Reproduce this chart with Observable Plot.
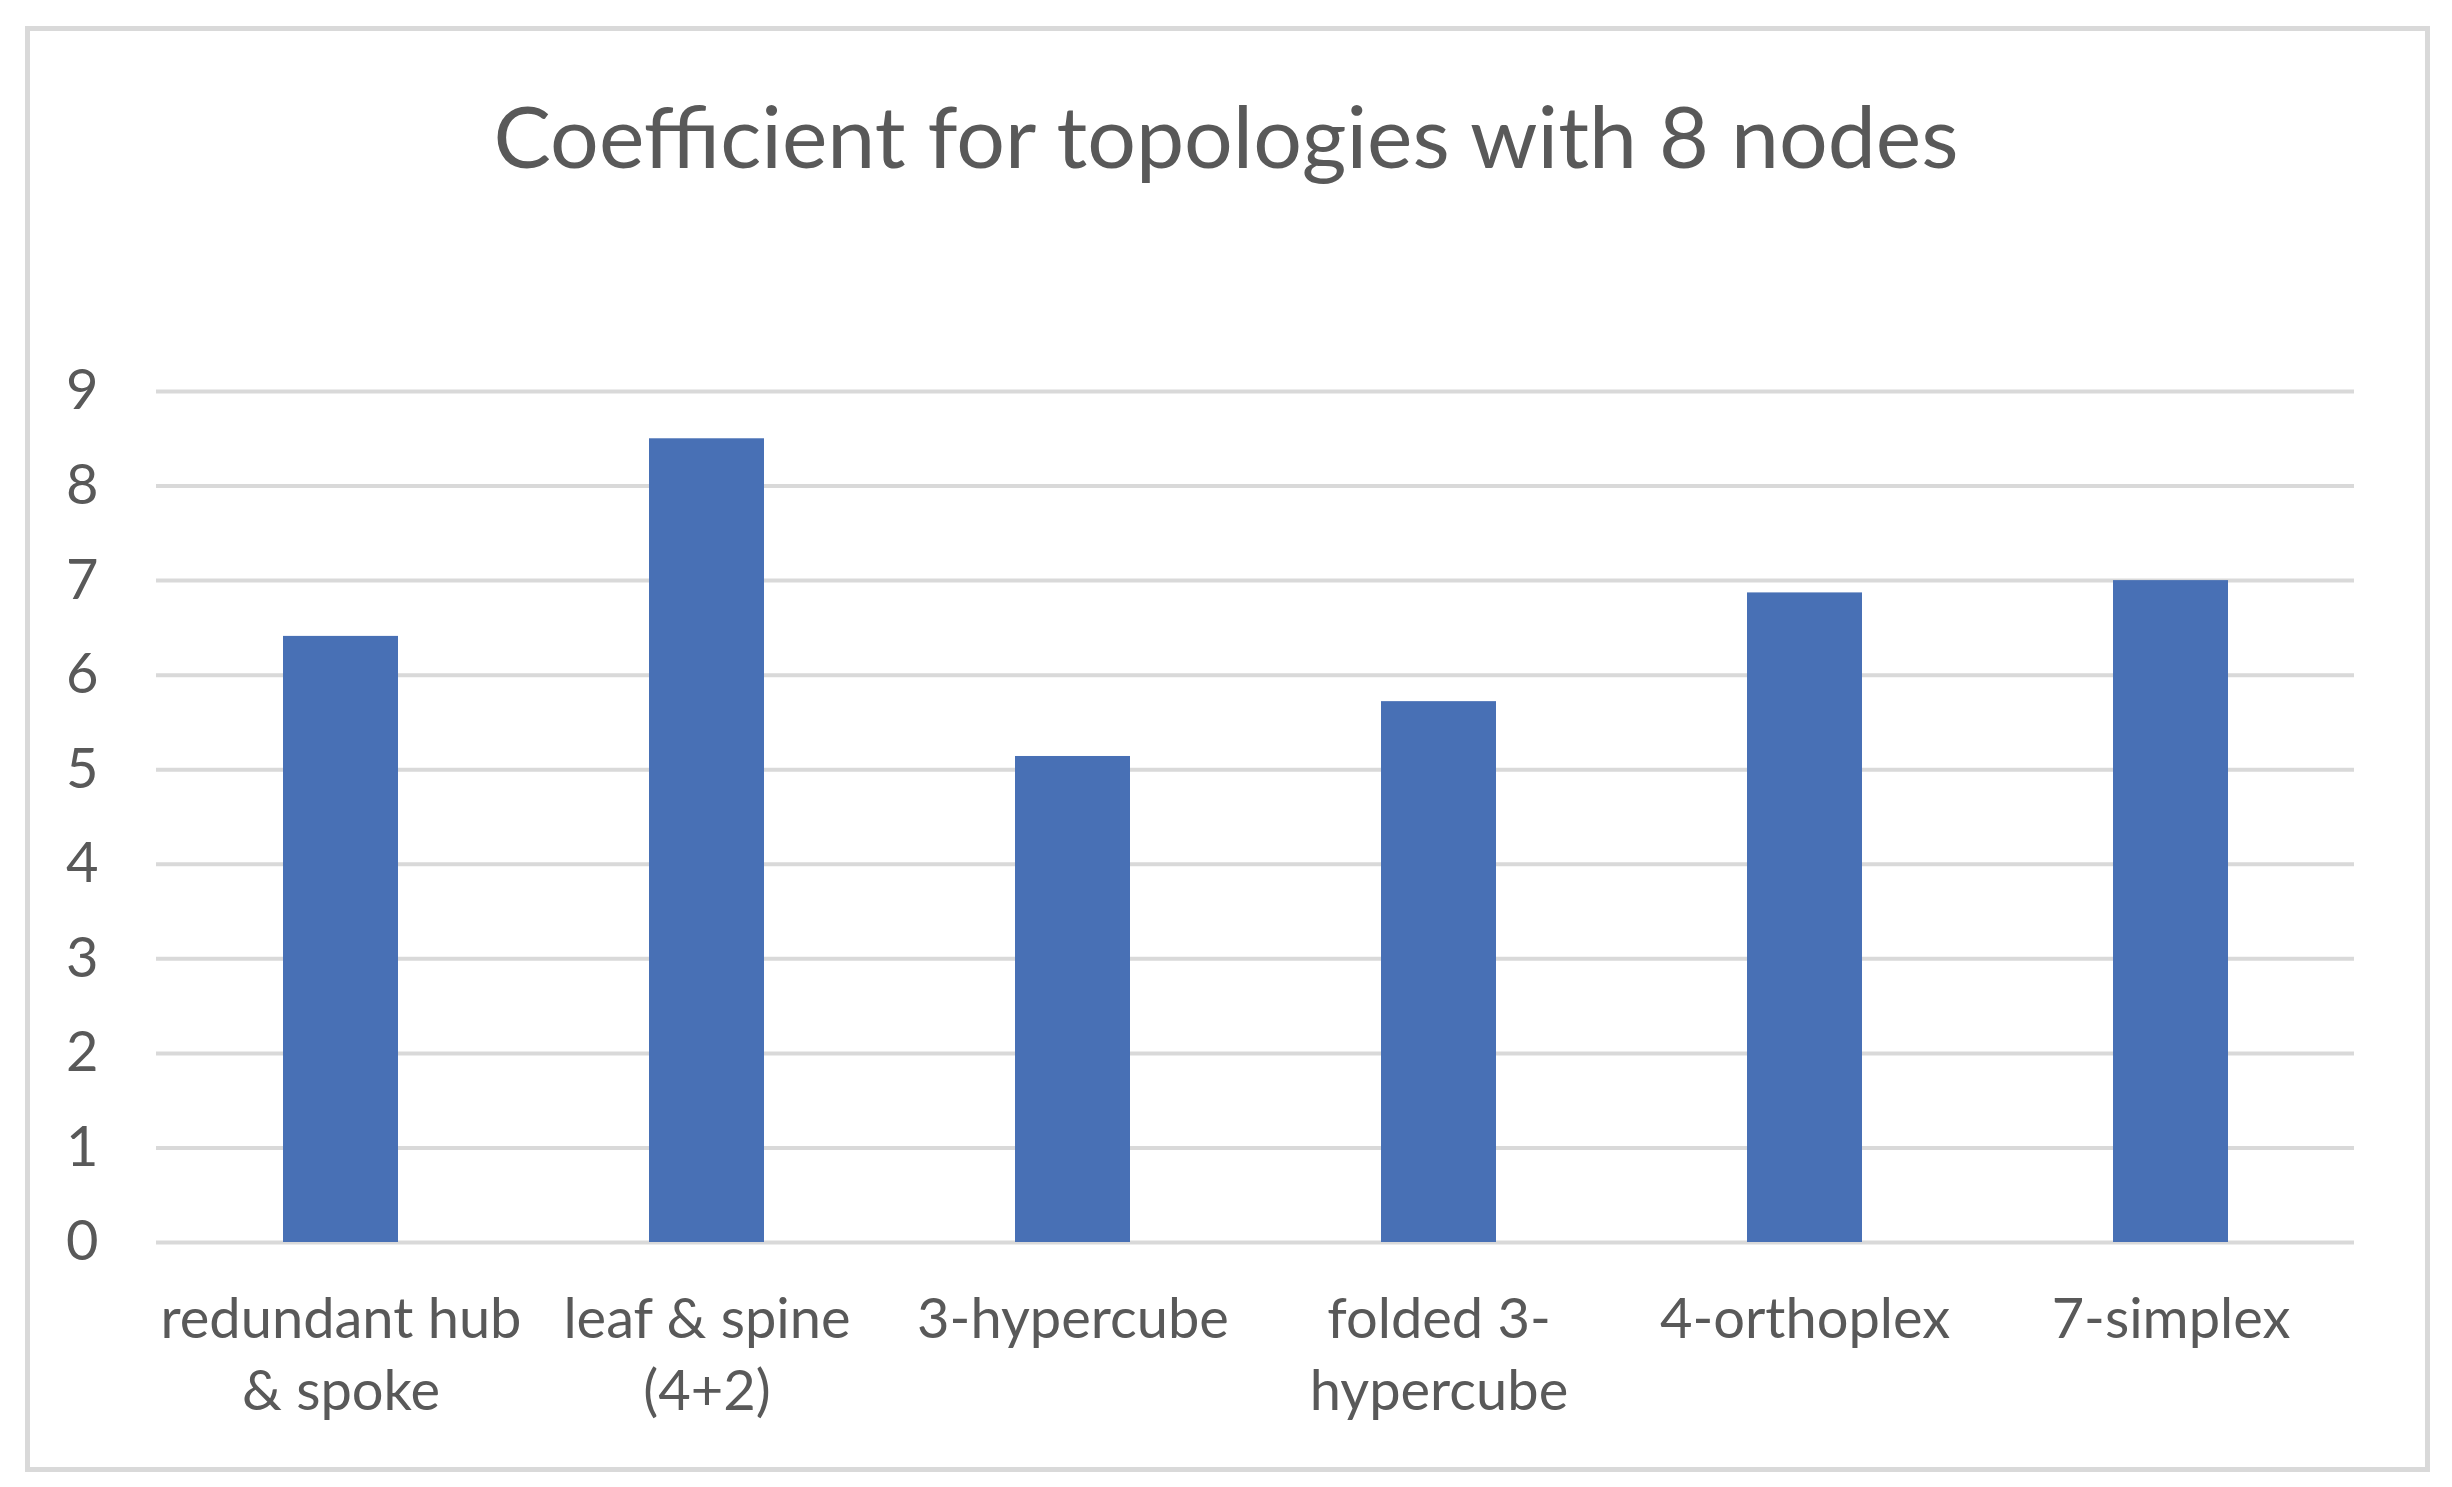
<!DOCTYPE html>
<html>
<head>
<meta charset="utf-8">
<script src="https://cdn.jsdelivr.net/npm/d3@7"></script>
<script src="https://cdn.jsdelivr.net/npm/@observablehq/plot@0.6"></script>
<style>
  html, body { margin: 0; padding: 0; background: #ffffff; }
  body { width: 2452px; height: 1487px; position: relative; overflow: hidden; font-family: Lato, "Open Sans", sans-serif; }
  #frame { position: absolute; left: 25px; top: 26px; width: 2405px; height: 1446px; border: 5px solid #D9D9D9; box-sizing: border-box; }
  #title { position: absolute; left: 0; top: 83px; width: 2452px; text-align: center; font-size: 86px; line-height: 1.2; color: #595959; font-family: Lato, sans-serif; }
  #chart { position: absolute; left: 0; top: 200px; }
</style>
</head>
<body>
<div id="frame"></div>
<div id="title">Coefficient for topologies with 8 nodes</div>
<div id="chart"></div>
<script>
const categories = ["redundant hub & spoke", "leaf & spine (4+2)", "3-hypercube", "folded 3-hypercube", "4-orthoplex", "7-simplex"];
const tickLabels = ["redundant hub\n& spoke", "leaf & spine\n(4+2)", "3-hypercube", "folded 3-\nhypercube", "4-orthoplex", "7-simplex"];
const values = [6.41, 8.5, 5.14, 5.72, 6.87, 7.0];
const yTicks = [0, 1, 2, 3, 4, 5, 6, 7, 8, 9];

const data = categories.map((c, i) => ({category: c, value: values[i]}));
const labelOf = new Map(categories.map((c, i) => [c, tickLabels[i]]));

const chart = Plot.plot({
  width: 2452,
  height: 1287,
  marginLeft: 156,
  marginRight: 98,
  marginTop: 191,
  marginBottom: 245,
  style: {fontFamily: "Lato, sans-serif", color: "#595959", background: "transparent"},
  x: {domain: categories, paddingInner: 0.686, paddingOuter: 0.343, label: null},
  y: {domain: [0, 9], label: null},
  marks: [
    Plot.gridY(yTicks, {stroke: "#D9D9D9", strokeOpacity: 1, strokeWidth: 4}),
    Plot.barY(data, {x: "category", y: "value", fill: "#4870B5"}),
    Plot.axisY(yTicks, {tickSize: 0, tickPadding: 58, fontSize: 56, fill: "#595959", tickFormat: d => String(d), label: null}),
    Plot.axisX({tickSize: 0, tickPadding: 45, fontSize: 56, fill: "#595959", lineHeight: 1.28, tickFormat: d => labelOf.get(d), label: null})
  ]
});
document.getElementById("chart").appendChild(chart);
</script>
</body>
</html>
